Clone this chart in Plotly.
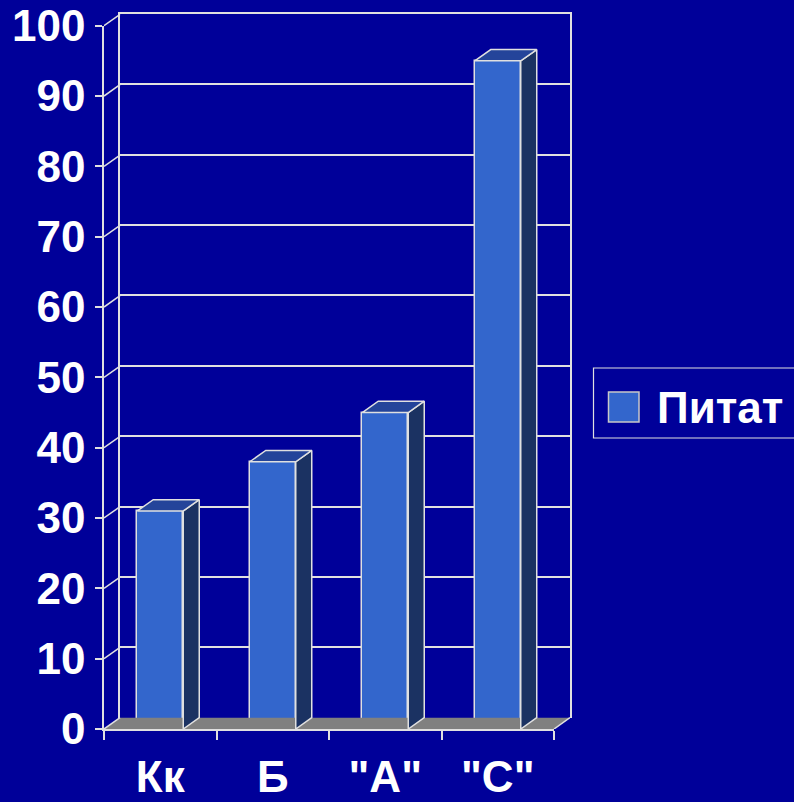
import plotly.graph_objects as go

# ---- data -----------------------------------------------------------------
categories = ["Кк", "Б", "\"А\"", "\"С\""]
values = [31, 38, 45, 95]
series_name = "Питат"
y_tick_values = list(range(0, 101, 10))

# ---- styling --------------------------------------------------------------
BG = "#000099"
FRONT = "#3366CC"
SIDE = "#1B3262"
TOP = "#24449A"
FLOOR = "#808080"
EDGE = "#E0E0E0"
FONT = dict(family="Liberation Sans, Arial, sans-serif", size=44, color="white", weight="bold")

# ---- geometry of the pseudo-3D box ---------------------------------------
W, H = 794, 802
L, R, T, B = 104, 224, 14, 73
plot_w = W - L - R            # full plotting box (front + depth)
plot_h = H - T - B
depth_px = (16.0, 11.3)       # horizontal / vertical shift of the back wall
front_w = plot_w - depth_px[0]
front_h = 703.3               # height of the 0..100 range on the front plane

n = len(categories)
px_per_cat = front_w / n
px_per_unit = front_h / 100.0
dx = depth_px[0] / px_per_cat       # depth in category units
dy = depth_px[1] / px_per_unit      # depth in value units
bar_w = 46.0 / px_per_cat

xs = list(range(n))

fig = go.Figure()

# back wall subplot (x / y) – needs a trace to be drawn
fig.add_trace(go.Scatter(x=[None], y=[None], xaxis="x", yaxis="y",
                         hoverinfo="skip", showlegend=False))

# all solid geometry lives on x2 / y2, which span the whole box
XA, YA = "x2", "y2"

# floor of the box
fig.add_trace(go.Scatter(
    x=[-0.5, n - 0.5, n - 0.5 + dx, -0.5 + dx, -0.5],
    y=[0, 0, dy, dy, 0], xaxis=XA, yaxis=YA,
    mode="lines", fill="toself", fillcolor=FLOOR,
    line=dict(width=0), hoverinfo="skip", showlegend=False,
))

# diagonal connectors from the front value axis to the back wall
diag_x, diag_y = [], []
for v in y_tick_values:
    diag_x += [-0.5, -0.5 + dx, None]
    diag_y += [v, v + dy, None]
diag_x += [n - 0.5, n - 0.5 + dx, None]
diag_y += [0, dy, None]
fig.add_trace(go.Scatter(
    x=diag_x, y=diag_y, xaxis=XA, yaxis=YA, mode="lines",
    line=dict(color=EDGE, width=1.5), hoverinfo="skip", showlegend=False,
))

# side and top faces of the columns
side_x, side_y, top_x, top_y = [], [], [], []
for xc, v in zip(xs, values):
    xl, xr = xc - bar_w / 2, xc + bar_w / 2
    side_x += [xr, xr + dx, xr + dx, xr, xr, None]
    side_y += [0, dy, v + dy, v, 0, None]
    top_x += [xl, xr, xr + dx, xl + dx, xl, None]
    top_y += [v, v, v + dy, v + dy, v, None]

fig.add_trace(go.Scatter(
    x=side_x, y=side_y, xaxis=XA, yaxis=YA, mode="lines", fill="toself",
    fillcolor=SIDE, line=dict(color=EDGE, width=1.5), hoverinfo="skip", showlegend=False,
))
fig.add_trace(go.Scatter(
    x=top_x, y=top_y, xaxis=XA, yaxis=YA, mode="lines", fill="toself",
    fillcolor=TOP, line=dict(color=EDGE, width=1.5), hoverinfo="skip", showlegend=False,
))

# front faces of the columns
fig.add_trace(go.Bar(
    x=xs, y=values, width=bar_w, name=series_name, xaxis=XA, yaxis=YA,
    marker=dict(color=FRONT, line=dict(color=EDGE, width=1.5)),
    showlegend=False,
))

# front axes subplot (x3 / y3)
fig.add_trace(go.Scatter(x=[None], y=[None], xaxis="x3", yaxis="y3",
                         hoverinfo="skip", showlegend=False))


# legend box drawn in paper coordinates
def px_x(p):
    return (p - L) / plot_w


def px_y(p):
    return (H - B - p) / plot_h


fig.add_shape(type="rect", xref="paper", yref="paper",
              x0=px_x(593.5), x1=px_x(900), y0=px_y(438), y1=px_y(368),
              line=dict(color=EDGE, width=1.2), fillcolor=BG)
fig.add_shape(type="rect", xref="paper", yref="paper",
              x0=px_x(608.5), x1=px_x(639), y0=px_y(422), y1=px_y(392),
              line=dict(color="#C8C8C8", width=1.5), fillcolor=FRONT)
fig.add_annotation(text=series_name, xref="paper", yref="paper",
                   x=px_x(655), y=px_y(407.5), xanchor="left", yanchor="middle",
                   showarrow=False, font=FONT)

fig.update_layout(
    template="none",
    width=W, height=H,
    margin=dict(l=L, r=R, t=T, b=B, pad=0, autoexpand=False),
    paper_bgcolor=BG, plot_bgcolor="rgba(0,0,0,0)",
    bargap=0, showlegend=False,
    # back wall
    xaxis=dict(
        anchor="y", domain=[depth_px[0] / plot_w, 1], automargin=False,
        range=[-0.5, n - 0.5], side="top", showline=True, linecolor=EDGE,
        linewidth=1.5, showticklabels=False, ticks="", showgrid=False,
        zeroline=False, fixedrange=True,
    ),
    yaxis=dict(
        anchor="x", domain=[depth_px[1] / plot_h, 1], automargin=False,
        range=[0, 100], tickmode="array", tickvals=y_tick_values[1:],
        showgrid=True, gridcolor=EDGE, gridwidth=1.5,
        showline=True, mirror=True, linecolor=EDGE, linewidth=1.5,
        showticklabels=False, ticks="", zeroline=False, fixedrange=True,
    ),
    # data axes spanning the whole box
    xaxis2=dict(anchor="y2", domain=[0, 1], range=[-0.5, n - 0.5 + dx], automargin=False,
                visible=False, showgrid=False, zeroline=False, fixedrange=True),
    yaxis2=dict(anchor="x2", domain=[0, 1], range=[0, plot_h / px_per_unit], automargin=False,
                visible=False, showgrid=False, zeroline=False, fixedrange=True),
    # front category axis
    xaxis3=dict(
        anchor="y3", domain=[0, front_w / plot_w], automargin=False,
        range=[-0.5, n - 0.5], tickmode="array", tickvals=xs, ticktext=categories,
        ticks="", showline=True, linecolor=EDGE, linewidth=1.5,
        showgrid=False, zeroline=False, tickfont=FONT, ticklabelstandoff=8,
        ticklabeloverflow="allow", fixedrange=True,
        minor=dict(tickvals=[i - 0.5 for i in range(n + 1)], ticks="outside",
                   ticklen=9, tickcolor=EDGE, tickwidth=1.5, showgrid=False),
    ),
    # front value axis
    yaxis3=dict(
        anchor="x3", domain=[0, front_h / plot_h], automargin=False,
        range=[0, 100], tickmode="array", tickvals=y_tick_values,
        ticks="outside", ticklen=7, tickcolor=EDGE, tickwidth=1.5,
        showline=True, linecolor=EDGE, linewidth=1.5,
        showgrid=False, zeroline=False, tickfont=FONT, ticklabelstandoff=1,
        ticklabeloverflow="allow", fixedrange=True,
    ),
)

fig.write_html("out.html")
